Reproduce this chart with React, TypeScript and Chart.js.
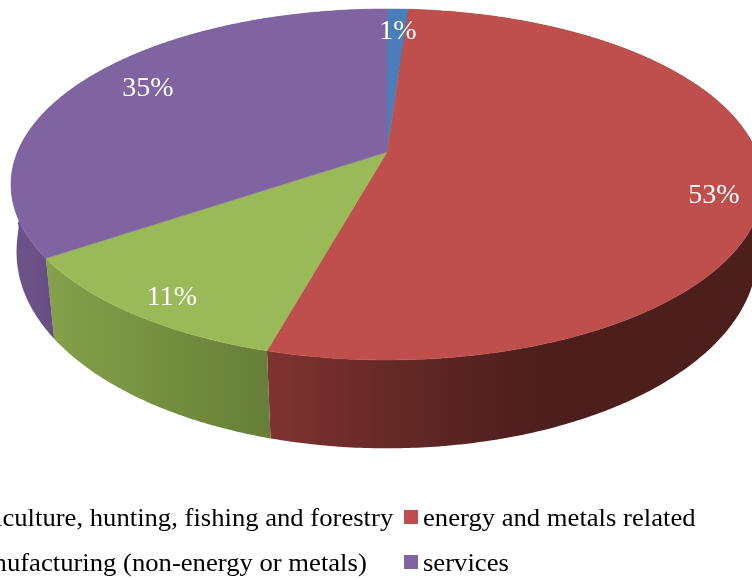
import React, { useEffect, useRef } from "react";
import { Chart, registerables } from "chart.js";

Chart.register(...registerables);

const categories = [
  "agriculture, hunting, fishing and forestry",
  "energy and metals related",
  "manufacturing (non-energy or metals)",
  "services",
];
const shares = [1.1, 53.2, 11.2, 34.5];
const colors = ["#4A7EBB", "#BE4F4C", "#9ABA59", "#8064A2"];

// projected disc
const CX = 387, CY = 152, A = 369.5, B = 169.5, K = 0.185, DEPTH = 72;
const top = (t: number) => {
  const u = Math.sin(t), v = -Math.cos(t), w = 1 - K * v;
  return [CX + (A * u) / w, CY + (B * v) / w];
};
const bottom = (t: number) => {
  const [x, y] = top(t);
  const v = -Math.cos(t);
  const w = 1 - K * v;
  const shrink = v > 0 ? 0.03 * Math.pow(v, 0.4) : 0;
  return [CX + (x - CX) * (1 - shrink), y + DEPTH / w];
};

const wallStops: [number, number, string, string, string][] = [
  [40, 270, "#86A24C", "#769040", "#667E39"],
  [268, 540, "#7F3331", "#622826", "#4C1E1C"],
  [10, 60, "#6E5389", "#6B5186", "#644C80"],
  [368, 410, "#3A5F8C", "#3A5F8C", "#3A5F8C"],
];
const wallIndex = [3, 1, 0, 2];
const labelCenters = [[398, 32], [714, 196], [172, 298], [148, 89]];

const pie3d = {
  id: "pie3d",
  beforeDatasetsDraw(chart: any) {
    const ctx = chart.ctx as CanvasRenderingContext2D;
    const arcs = chart.getDatasetMeta(0).data as any[];
    const angle = (a: number) => a + Math.PI / 2;
    const path = (a0: number, a1: number, f: (t: number) => number[]) => {
      const n = Math.max(2, Math.ceil((a1 - a0) / 0.01));
      const pts: number[][] = [];
      for (let i = 0; i <= n; i++) pts.push(f(a0 + ((a1 - a0) * i) / n));
      return pts;
    };
    ctx.save();
    ctx.fillStyle = "#fff";
    ctx.fillRect(0, 0, chart.width, chart.height);
    // walls
    arcs.forEach((arc, i) => {
      const a0 = angle(arc.startAngle), a1 = angle(arc.endAngle);
      const t = path(a0, a1, top), b = path(a0, a1, bottom).reverse();
      const s = wallStops[wallIndex[i]];
      const g = ctx.createLinearGradient(s[0], 0, s[1], 0);
      g.addColorStop(0, s[2]); g.addColorStop(0.5, s[3]); g.addColorStop(1, s[4]);
      ctx.fillStyle = g;
      ctx.beginPath();
      [...t, ...b].forEach((p, j) => (j ? ctx.lineTo(p[0], p[1]) : ctx.moveTo(p[0], p[1])));
      ctx.closePath();
      ctx.fill();
    });
    // top face
    arcs.forEach((arc, i) => {
      const a0 = angle(arc.startAngle), a1 = angle(arc.endAngle);
      ctx.fillStyle = colors[i];
      ctx.strokeStyle = colors[i];
      ctx.lineWidth = 0.5;
      ctx.beginPath();
      ctx.moveTo(CX, CY);
      path(a0, a1, top).forEach((p) => ctx.lineTo(p[0], p[1]));
      ctx.closePath();
      ctx.fill();
      ctx.stroke();
    });
    // percent labels
    ctx.fillStyle = "#fff";
    ctx.font = '28px "Liberation Serif"';
    ctx.textAlign = "center";
    ctx.textBaseline = "middle";
    shares.forEach((v, i) => {
      ctx.fillText(`${Math.round(v)}%`, labelCenters[i][0], labelCenters[i][1]);
    });
    // legend
    const rows = [
      { i: 0, sw: -58, tx: -39, y: 519 },
      { i: 1, sw: 404, tx: 423, y: 519 },
      { i: 2, sw: -58, tx: -39, y: 564 },
      { i: 3, sw: 404, tx: 423, y: 564 },
    ];
    ctx.textAlign = "left";
    ctx.textBaseline = "alphabetic";
    ctx.font = '26px "Liberation Serif"';
    rows.forEach((r) => {
      ctx.fillStyle = colors[r.i];
      ctx.fillRect(r.sw, r.y - 9, 14, 14);
      ctx.fillStyle = "#000";
      ctx.save();
      ctx.translate(r.tx, r.y + 7);
      ctx.scale(1.025, 1);
      ctx.fillText(categories[r.i], 0, 0);
      ctx.restore();
    });
    ctx.restore();
    return false;
  },
};

export default function App() {
  const ref = useRef<HTMLCanvasElement>(null);
  useEffect(() => {
    const chart = new Chart(ref.current!, {
      type: "pie",
      data: {
        labels: categories,
        datasets: [{ data: shares, backgroundColor: colors, borderWidth: 0 }],
      },
      options: {
        responsive: false,
        animation: false,
        plugins: { legend: { display: false }, tooltip: { enabled: false } },
      },
      plugins: [pie3d],
    });
    return () => chart.destroy();
  }, []);
  return (
    <div style={{ position: "absolute", left: 0, top: 0, width: 752, height: 580, overflow: "hidden" }}>
      <canvas ref={ref} width={752} height={580} style={{ display: "block" }} />
    </div>
  );
}
